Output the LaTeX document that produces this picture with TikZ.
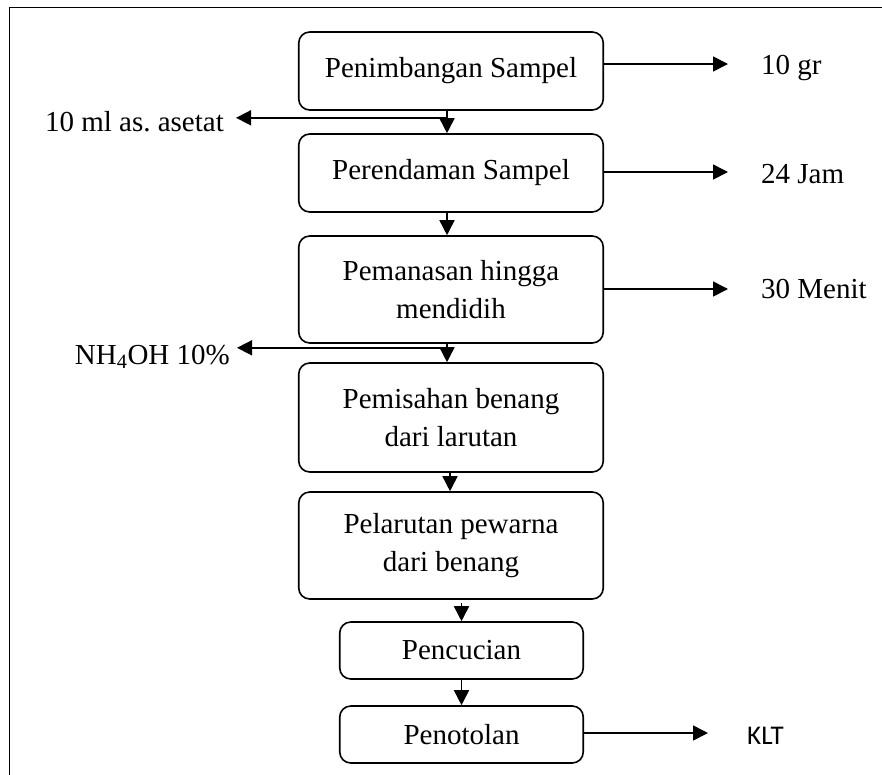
\documentclass[tikz,border=0pt]{standalone}
\usepackage{fontspec}
\setmainfont{Liberation Serif}
\newfontfamily\kltfont{Carlito}
\usetikzlibrary{arrows.meta}
\frenchspacing
\begin{document}
\begin{tikzpicture}[x=1pt,y=-1pt,
  box/.style={draw, line width=1.6pt, rounded corners=11pt, minimum width=304.5pt, align=center, font=\fontsize{29}{38.5}\selectfont, inner sep=0pt},
  sbox/.style={box, minimum width=243.5pt, minimum height=57pt},
  lbl/.style={font=\fontsize{29}{38.5}\selectfont, inner sep=0pt},
  arr/.style={line width=1.6pt, -{Triangle[length=15pt,width=15pt]}}]
\useasboundingbox (0,0) rectangle (882,774);
\clip (0,0) rectangle (882,774);
\draw[line width=1.7pt] (9.5,7.5) rectangle (950,850);
% boxes
\node[box, minimum height=78pt] (b1) at (451,71) {Penimbangan Sampel};
\node[box, minimum height=78pt] (b2) at (451,173) {Perendaman Sampel};
\node[box, minimum height=107pt] (b3) at (451,289.5) {Pemanasan hingga\\mendidih};
\node[box, minimum height=109pt] (b4) at (451,417.5) {Pemisahan benang\\dari larutan};
\node[box, minimum height=107pt] (b5) at (451,545.5) {Pelarutan pewarna\\dari benang};
\node[sbox] (b6) at (461.5,650.5) {Pencucian};
\node[sbox] (b7) at (461.5,734.5) {Penotolan};
% side labels
\node[lbl, anchor=base west] (t1) at (761,74) {10 gr};
\node[lbl, anchor=base west] (t2) at (761,183) {24 Jam};
\node[lbl, anchor=base west] (t3) at (761,298) {30 Menit};
\node[inner sep=0pt, anchor=base west, font=\kltfont\fontsize{27}{32}\selectfont] (t8) at (747,744) {KLT};
\node[lbl, anchor=base east] (l1) at (224,131) {10 ml as. asetat};
\node[lbl, anchor=base east] (l2) at (230,364) {NH\textsubscript{4}OH 10\%};
% right arrows
\draw[arr, shorten >=33pt] ([yshift=7pt]b1.east) -- ([yshift=7pt]b1.east -| t1.west);
\draw[arr, shorten >=33pt] ([yshift=1pt]b2.east) -- ([yshift=1pt]b2.east -| t2.west);
\draw[arr, shorten >=33pt] ([yshift=0.5pt]b3.east) -- ([yshift=0.5pt]b3.east -| t3.west);
\draw[arr, shorten >=39pt] ([yshift=1.5pt]b7.east) -- ([yshift=1.5pt]b7.east -| t8.west);
% left arrows
\draw[arr, shorten >=12pt] ([xshift=-4pt,yshift=-7pt]b1.south) -- ([yshift=-7pt]b1.south -| l1.east);
\draw[arr, shorten >=7pt] ([xshift=-4pt,yshift=-4pt]b3.south) -- ([yshift=-4pt]b3.south -| l2.east);
% down arrows
\draw[arr] ([xshift=-4pt]b1.south) -- ([xshift=-4pt]b2.north);
\draw[arr] ([xshift=-4pt]b2.south) -- ([xshift=-4pt]b3.north);
\draw[arr] ([xshift=-4pt]b3.south) -- ([xshift=-4pt]b4.north);
\draw[arr] ([xshift=-1pt]b4.south) -- ([xshift=-1pt]b5.north);
\draw[arr] ([xshift=10.5pt,yshift=-3pt]b5.south) -- (b6.north);
\draw[arr] (b6.south) -- (b7.north);
\end{tikzpicture}
\end{document}
